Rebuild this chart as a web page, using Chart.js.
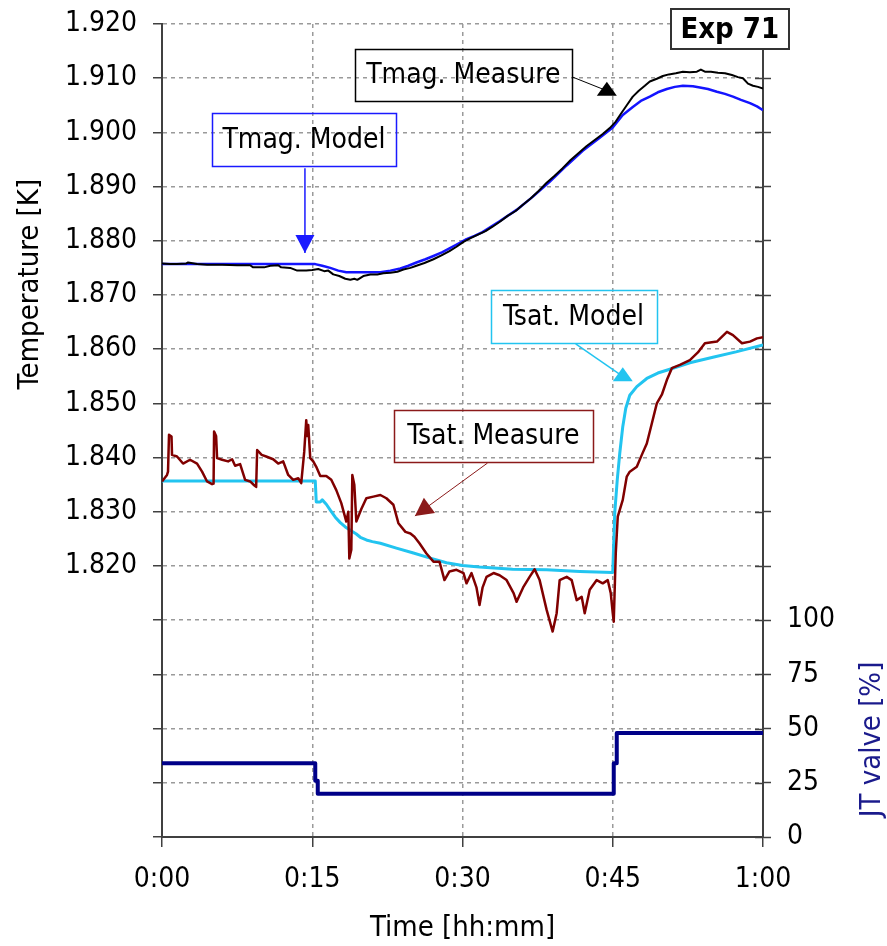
<!DOCTYPE html>
<html>
<head>
<meta charset="utf-8">
<script src="https://cdn.jsdelivr.net/npm/chart.js@4.4.0/dist/chart.umd.min.js"></script>
<style>
  html, body { margin: 0; padding: 0; background: #fff; }
  #graphique { display: block; }
</style>
</head>
<body>
<canvas id="graphique" width="887" height="946"></canvas>
<script>
// Temps en minutes depuis le début de l'essai, températures en K, vanne JT en %
const tmagMesureTemps = [
  0, 0.8, 1.5, 2.4, 2.6, 3.5, 4.5, 6, 7.5, 8.8,
  9.1, 10.2, 10.8, 11.6, 11.9, 12.8, 13.5, 14.4, 15.0, 15.6,
  16.2, 16.6, 17.1, 17.7, 18.3, 18.8, 19.2, 19.5, 20.1, 20.8,
  21.5, 22.1, 22.8, 23.5, 24.1, 24.8, 25.4, 26.2, 27.1, 27.9,
  28.7, 29.4, 30.1, 30.8, 31.6, 32.3, 33.0, 33.8, 34.5, 35.3,
  36.0, 36.8, 37.6, 38.4, 39.2, 40.0, 40.8, 41.6, 42.4, 43.2,
  44.0, 44.7, 45.3, 45.8, 46.4, 47.0, 47.6, 48.2, 48.7, 49.4,
  50.0, 50.6, 51.3, 52.0, 52.7, 53.4, 53.8, 54.2, 54.8, 55.5,
  56.2, 56.9, 57.5, 58.0, 58.5, 59.0, 59.5, 60
];
const tmagMesureValeurs = [
  1.8758, 1.8757, 1.8757, 1.8758, 1.8760, 1.8757, 1.8756, 1.8756, 1.8755, 1.8755,
  1.8751, 1.8751, 1.8754, 1.8755, 1.8751, 1.8750, 1.8745, 1.8745, 1.8746, 1.8748,
  1.8744, 1.8745, 1.8738, 1.8735, 1.8730, 1.8728, 1.8730, 1.8728, 1.8735, 1.8738,
  1.8738, 1.8740, 1.8741, 1.8743, 1.8747, 1.8750, 1.8754, 1.8759, 1.8766, 1.8773,
  1.8781, 1.8789, 1.8798, 1.8805, 1.8812, 1.8818, 1.8826, 1.8836, 1.8846, 1.8855,
  1.8866, 1.8878, 1.8892, 1.8907, 1.8920, 1.8934, 1.8949, 1.8962, 1.8975, 1.8986,
  1.8997, 1.9008, 1.9020, 1.9034, 1.9050, 1.9066, 1.9077, 1.9086, 1.9094, 1.9099,
  1.9104, 1.9107, 1.9109, 1.9112, 1.9111, 1.9112, 1.9116, 1.9112, 1.9112, 1.9110,
  1.9109, 1.9106, 1.9102, 1.9100, 1.9090, 1.9086, 1.9084, 1.9081
];

const tmagModeleTemps = [
  0, 15.3, 16.0, 16.8, 17.6, 18.4, 21.8, 22.8, 23.8, 24.6,
  25.4, 26.3, 27.1, 28.0, 28.7, 29.6, 30.4, 31.2, 32.0, 33.7,
  35.4, 37.0, 38.7, 40.4, 42.0, 43.7, 45.0, 46.0, 47.0, 47.8,
  48.7, 49.5, 50.4, 51.2, 52.0, 53.0, 53.7, 54.5, 55.4, 56.2,
  57.0, 57.8, 58.7, 59.4, 60
];
const tmagModeleValeurs = [
  1.8757, 1.8757, 1.8754, 1.8750, 1.8745, 1.8742, 1.8742, 1.8745, 1.8749, 1.8754,
  1.8760, 1.8766, 1.8772, 1.8779, 1.8786, 1.8795, 1.8803, 1.8809, 1.8816, 1.8836,
  1.8857, 1.8881, 1.8909, 1.8939, 1.8966, 1.8990, 1.9009, 1.9032, 1.9047, 1.9058,
  1.9066, 1.9074, 1.9080, 1.9084, 1.9086, 1.9085, 1.9083, 1.9080, 1.9075, 1.9071,
  1.9066, 1.9060, 1.9054, 1.9048, 1.9041
];

const tsatModeleTemps = [
  0, 15.3, 15.4, 15.8, 16.0, 16.4, 16.8, 17.3, 17.8, 18.3,
  18.8, 19.4, 19.8, 20.4, 21.0, 21.8, 23.4, 25.1, 26.7, 28.4,
  30.0, 31.7, 35.0, 38.4, 41.7, 45.0, 45.2, 45.45, 45.7, 46.0,
  46.3, 46.7, 47.4, 48.4, 49.5, 50.7, 52.7, 55.0, 57.3, 60
];
const tsatModeleValeurs = [
  1.8357, 1.8357, 1.8318, 1.8318, 1.8322, 1.8314, 1.8303, 1.8290, 1.8280, 1.8272,
  1.8266, 1.8259, 1.8253, 1.8248, 1.8245, 1.8242, 1.8233, 1.8224, 1.8215, 1.8206,
  1.8201, 1.8198, 1.8194, 1.8193, 1.8190, 1.8188, 1.8298, 1.8359, 1.8408, 1.8457,
  1.8491, 1.8515, 1.8531, 1.8546, 1.8556, 1.8563, 1.8575, 1.8585, 1.8595, 1.8608
];

const tsatMesureTemps = [
  0, 0.5, 0.6, 0.7, 0.95, 1.0, 1.5, 2.1, 2.8, 3.5,
  4.0, 4.5, 5.0, 5.15, 5.2, 5.4, 5.5, 6.0, 6.6, 7.0,
  7.3, 7.8, 8.3, 8.8, 9.2, 9.4, 9.5, 9.95, 10.4, 11.1,
  11.6, 12.1, 12.6, 13.1, 13.6, 13.9, 14.2, 14.4, 14.5, 14.6,
  14.8, 15.1, 15.4, 15.8, 16.4, 16.9, 17.4, 17.9, 18.4, 18.6,
  18.7, 18.9, 19.0, 19.2, 19.4, 19.9, 20.4, 21.1, 21.8, 22.4,
  23.1, 23.6, 24.3, 24.8, 25.2, 25.7, 26.4, 27.1, 27.7, 28.2,
  28.7, 29.4, 30.1, 30.4, 30.9, 31.4, 31.7, 32.0, 32.4, 33.1,
  33.7, 34.4, 35.1, 35.4, 36.1, 36.7, 37.2, 37.7, 38.4, 39.0,
  39.4, 39.7, 40.4, 40.9, 41.4, 41.9, 42.2, 42.7, 43.4, 44.0,
  44.5, 44.8, 45.0, 45.1, 45.3, 45.5, 46.0, 46.4, 46.7, 47.4,
  47.9, 48.4, 48.9, 49.4, 49.9, 50.4, 50.9, 51.7, 52.7, 53.5,
  54.2, 55.4, 56.4, 57.0, 57.9, 58.7, 59.4, 60
];
const tsatMesureValeurs = [
  1.8356, 1.8368, 1.8374, 1.8442, 1.8439, 1.8405, 1.8402, 1.8389, 1.8396, 1.8389,
  1.8374, 1.8356, 1.8351, 1.8352, 1.8448, 1.8440, 1.8399, 1.8396, 1.8393, 1.8397,
  1.8385, 1.8388, 1.8359, 1.8356, 1.8349, 1.8346, 1.8414, 1.8405, 1.8402, 1.8397,
  1.8389, 1.8393, 1.8368, 1.8359, 1.8362, 1.8353, 1.8411, 1.8469, 1.8440, 1.8460,
  1.8399, 1.8393, 1.8383, 1.8366, 1.8366, 1.8359, 1.8340, 1.8316, 1.8282, 1.8300,
  1.8214, 1.8230, 1.8368, 1.8350, 1.8282, 1.8305, 1.8325, 1.8328, 1.8331, 1.8325,
  1.8313, 1.8279, 1.8263, 1.8260, 1.8254, 1.8242, 1.8223, 1.8208, 1.8208, 1.8174,
  1.8190, 1.8193, 1.8187, 1.8168, 1.8187, 1.8160, 1.8128, 1.8160, 1.8180, 1.8187,
  1.8183, 1.8174, 1.8150, 1.8134, 1.8162, 1.8180, 1.8194, 1.8174, 1.8119, 1.8079,
  1.8113, 1.8174, 1.8180, 1.8174, 1.8137, 1.8143, 1.8113, 1.8156, 1.8174, 1.8168,
  1.8174, 1.8150, 1.8113, 1.8097, 1.8223, 1.8291, 1.8322, 1.8365, 1.8374, 1.8383,
  1.8405, 1.8426, 1.8463, 1.8500, 1.8516, 1.8543, 1.8565, 1.8571, 1.8580, 1.8594,
  1.8611, 1.8614, 1.8632, 1.8626, 1.8611, 1.8614, 1.8620, 1.8622
];

const vanneJTTemps = [0, 15.3, 15.3, 15.55, 15.55, 45.1, 45.1, 45.4, 45.4, 60];
const vanneJTValeurs = [34, 34, 26, 26, 20, 20, 34, 34, 48, 48];

const etiquettesTemps = ["0:00", "0:15", "0:30", "0:45", "1:00"];

const police = "'DejaVu Sans Condensed', 'DejaVu Sans', sans-serif";
const couleurAxe = "#404040";
const couleurGrille = "#9a9a9a";

function points(temps, valeurs) {
  return temps.map((t, i) => ({ x: t, y: valeurs[i] }));
}

// Bulles de légende avec flèche, positionnées en unités du graphique (min, K)
const bulles = [
  { texte: "Tmag. Model", couleur: "#1a1aff", coin1: [5.0, 1.9036], coin2: [23.35, 1.8938],
    depart: [14.27, 1.8934], arrivee: [14.27, 1.87775], pointe: "dir", epaisseur: 1.5 },
  { texte: "Tmag. Measure", couleur: "#000000", coin1: [19.26, 1.91533], coin2: [40.92, 1.90579],
    depart: [41.0, 1.9102], arrivee: [44.41, 1.90769], pointe: "haut", epaisseur: 1 },
  { texte: "Tsat. Model", couleur: "#22c4f0", coin1: [32.8, 1.8709], coin2: [49.37, 1.8612],
    depart: [41.3, 1.8610], arrivee: [46.0, 1.8550], pointe: "haut", epaisseur: 1.5 },
  { texte: "Tsat. Measure", couleur: "#8b1a1a", coin1: [23.15, 1.84878], coin2: [43.0, 1.83919],
    depart: [32.5, 1.8390], arrivee: [25.25, 1.82923], pointe: "dir", epaisseur: 1 }
];

const decor = {
  id: "decor",
  afterDraw(chart) {
    const { ctx, scales: { x, y, y2 } } = chart;
    const px = (p) => [x.getPixelForValue(p[0]), y.getPixelForValue(p[1])];
    ctx.save();

    // petites graduations intérieures de l'axe de droite
    ctx.strokeStyle = couleurAxe;
    ctx.lineWidth = 1.5;
    y2.ticks.forEach(tk => {
      const py = Math.round(y2.getPixelForValue(tk.value)) + 0.5;
      ctx.beginPath();
      ctx.moveTo(y2.left - 8, py);
      ctx.lineTo(y2.left, py);
      ctx.stroke();
    });

    // titres des axes
    ctx.font = "29px " + police;
    ctx.textAlign = "center";
    ctx.textBaseline = "middle";
    ctx.fillStyle = "#000";
    ctx.save();
    ctx.translate(30, y.getPixelForValue(1.872));
    ctx.rotate(-Math.PI / 2);
    ctx.fillText("Temperature [K]", 0, 0);
    ctx.restore();
    ctx.save();
    ctx.translate(872, y2.getPixelForValue(45));
    ctx.rotate(-Math.PI / 2);
    ctx.fillStyle = "#1a1a8c";
    ctx.fillText("JT valve [%]", 0, 0);
    ctx.restore();
    ctx.fillText("Time [hh:mm]", x.getPixelForValue(30), 928);

    // bulles et flèches
    ctx.font = "28px " + police;
    bulles.forEach(b => {
      const [x1, y1] = px(b.coin1);
      const [x2, y2p] = px(b.coin2);
      ctx.strokeStyle = b.couleur;
      ctx.lineWidth = 1.5;
      ctx.strokeRect(Math.round(x1) + 0.5, Math.round(y1) + 0.5, Math.round(x2 - x1), Math.round(y2p - y1));
      ctx.fillStyle = "#000";
      ctx.fillText(b.texte, (x1 + x2) / 2, (y1 + y2p) / 2 + 1);

      const [ax, ay] = px(b.depart);
      const [bx, by] = px(b.arrivee);
      ctx.lineWidth = b.epaisseur;
      ctx.beginPath();
      ctx.moveTo(ax, ay);
      ctx.lineTo(bx, by);
      ctx.stroke();
      ctx.fillStyle = b.couleur;
      ctx.beginPath();
      if (b.pointe === "haut") {
        ctx.moveTo(bx - 10, by + 5);
        ctx.lineTo(bx + 10, by + 5);
        ctx.lineTo(bx, by - 9);
      } else {
        const ang = Math.atan2(by - ay, bx - ax);
        const l = 18, w = 9.5;
        const cx = bx - l * Math.cos(ang), cy = by - l * Math.sin(ang);
        ctx.moveTo(bx, by);
        ctx.lineTo(cx + w * Math.sin(ang), cy - w * Math.cos(ang));
        ctx.lineTo(cx - w * Math.sin(ang), cy + w * Math.cos(ang));
      }
      ctx.closePath();
      ctx.fill();
    });

    // cartouche du numéro d'essai
    const [ex1, ey1] = px([50.8, 1.92277]);
    const [ex2, ey2] = px([62.57, 1.91539]);
    ctx.fillStyle = "#fff";
    ctx.fillRect(ex1, ey1, ex2 - ex1, ey2 - ey1);
    ctx.strokeStyle = "#333";
    ctx.lineWidth = 2;
    ctx.strokeRect(Math.round(ex1), Math.round(ey1), Math.round(ex2 - ex1), Math.round(ey2 - ey1));
    ctx.fillStyle = "#000";
    ctx.font = "bold 29px " + police;
    ctx.fillText("Exp 71", (ex1 + ex2) / 2, (ey1 + ey2) / 2 + 1);
    ctx.restore();
  }
};

const transparent = "rgba(0,0,0,0)";
const policeGraduations = { family: police, size: 28 };

// largeur fixe des axes verticaux, sans marge ajoutée par les étiquettes
function axeVertical(largeur) {
  return (s) => { s.width = largeur; s.paddingTop = 0; s.paddingBottom = 0; };
}

new Chart(document.getElementById("graphique"), {
  type: "line",
  data: {
    datasets: [
      { label: "Tmag. Measure", data: points(tmagMesureTemps, tmagMesureValeurs), yAxisID: "y",
        borderColor: "#000000", borderWidth: 2, order: 2 },
      { label: "Tmag. Model", data: points(tmagModeleTemps, tmagModeleValeurs), yAxisID: "y",
        borderColor: "#1414ff", borderWidth: 2.5, order: 3 },
      { label: "Tsat. Measure", data: points(tsatMesureTemps, tsatMesureValeurs), yAxisID: "y",
        borderColor: "#800000", borderWidth: 2.5, order: 4 },
      { label: "Tsat. Model", data: points(tsatModeleTemps, tsatModeleValeurs), yAxisID: "y",
        borderColor: "#22c4f0", borderWidth: 3, order: 5 },
      { label: "JT valve", data: points(vanneJTTemps, vanneJTValeurs), yAxisID: "y2",
        borderColor: "#000088", borderWidth: 4, order: 1 }
    ]
  },
  options: {
    responsive: false,
    animation: false,
    devicePixelRatio: 1,
    layout: { padding: { top: 24, left: 0, right: 0, bottom: 0 } },
    elements: { point: { radius: 0 }, line: { tension: 0, borderJoinStyle: "round" } },
    plugins: { legend: { display: false }, tooltip: { enabled: false } },
    scales: {
      x: {
        type: "linear", min: 0, max: 60,
        afterFit: (s) => { s.height = 109; },
        ticks: { stepSize: 15, padding: 16, color: "#000", font: policeGraduations,
          callback: (v) => etiquettesTemps[Math.round(v / 15)] },
        grid: { color: (c) => (c.tick && (c.tick.value === 0 || c.tick.value === 60)) ? transparent : couleurGrille,
          lineWidth: 1.5, tickLength: 10, tickColor: couleurAxe, tickWidth: 1.5 },
        border: { color: couleurAxe, width: 2, dash: [4, 4] }
      },
      y: {
        type: "linear", position: "left", min: 1.77, max: 1.92,
        afterFit: axeVertical(162),
        ticks: { stepSize: 0.01, padding: 16, color: "#000", font: policeGraduations,
          callback: (v) => v > 1.815 ? v.toFixed(3) : "" },
        grid: { color: (c) => (c.tick && c.tick.value < 1.775) ? transparent : couleurGrille,
          lineWidth: 1.5, tickLength: 9, tickColor: couleurAxe, tickWidth: 1.5 },
        border: { color: couleurAxe, width: 2, dash: [4, 4] }
      },
      y2: {
        type: "linear", position: "right", min: 0, max: 375,
        afterFit: axeVertical(124),
        ticks: { stepSize: 25, padding: 16, color: "#000", font: policeGraduations,
          callback: (v) => v <= 100 ? String(v) : "" },
        grid: { drawOnChartArea: false, tickLength: 8, tickColor: couleurAxe, tickWidth: 1.5 },
        border: { color: couleurAxe, width: 2 }
      }
    }
  },
  plugins: [decor]
});
</script>
</body>
</html>
